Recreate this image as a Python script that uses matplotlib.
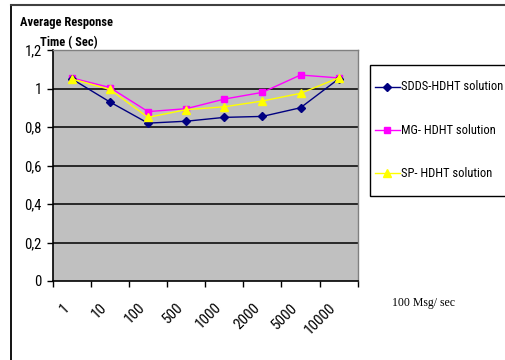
import matplotlib
matplotlib.use("Agg")
import matplotlib.pyplot as plt
from matplotlib.lines import Line2D
from matplotlib.patches import Rectangle
import numpy as np

# Message rates on the x axis and average response times (seconds)
categories = ["1", "10", "100", "500", "1000", "2000", "5000", "10000"]
sdds_hdht = [1.05, 0.93, 0.82, 0.83, 0.85, 0.855, 0.90, 1.05]
mg_hdht = [1.055, 1.005, 0.88, 0.895, 0.945, 0.98, 1.07, 1.055]
sp_hdht = [1.05, 0.995, 0.85, 0.89, 0.905, 0.935, 0.975, 1.055]
series_names = ["SDDS-HDHT solution", "MG- HDHT solution", "SP- HDHT solution"]
y_ticks = [0, 0.2, 0.4, 0.6, 0.8, 1.0, 1.2]
y_tick_labels = ["0", "0,2", "0,4", "0,6", "0,8", "1", "1,2"]

narrow = ["Roboto Condensed", "Liberation Sans", "DejaVu Sans"]
serif = ["Liberation Serif", "DejaVu Serif"]

W, H = 506, 360
fig = plt.figure(figsize=(W / 100, H / 100), dpi=100)
fig.patch.set_facecolor("white")


def fx(px):
    return px / W


def fy(py):
    return 1 - py / H


# outer chart frame (top and left edges visible)
fig.add_artist(Line2D([fx(11), fx(11)], [0, fy(5)], color="black", lw=1.3,
                      transform=fig.transFigure))
fig.add_artist(Line2D([fx(11), 1], [fy(5), fy(5)], color="#404040", lw=1.5,
                      transform=fig.transFigure))

left, right, top, bottom = 52.7, 357.7, 50, 281
ax = fig.add_axes([fx(left), fy(bottom), (right - left) / W, (bottom - top) / H])
ax.set_facecolor("#C0C0C0")

styles = [
    dict(color="#000080", marker="D", ms=4.5),
    dict(color="#FF00FF", marker="s", ms=5),
    dict(color="#FFFF00", marker="^", ms=6),
]
x = np.arange(len(categories))
for vals, st, z in zip([sdds_hdht, mg_hdht, sp_hdht], styles, [5, 4, 6]):
    ax.plot(x, vals, lw=1.0, zorder=z, **st)

ax.set_xlim(-0.5, len(categories) - 0.5)
ax.set_ylim(0, 1.2)
ax.set_yticks(y_ticks)
ax.set_yticklabels(y_tick_labels, fontsize=10.5, family=narrow)
for yv in y_ticks[1:-1]:
    ax.axhline(yv, color="black", lw=1.1, zorder=1)

# category boundaries carry the tick marks, labels sit at the centres
ax.set_xticks(np.arange(-0.5, len(categories), 1.0))
ax.set_xticklabels([])
ax.set_xticks(x, minor=True)
ax.set_xticklabels(categories, minor=True, rotation=45, ha="right", va="top",
                   fontsize=11, family=narrow)
ax.tick_params(axis="x", which="minor", length=0, pad=14)
ax.tick_params(axis="x", which="major", length=4, width=1, direction="out")
ax.tick_params(axis="y", length=4, width=1, direction="out", pad=4)

for s in ("top", "right"):
    ax.spines[s].set_color("#808080")
    ax.spines[s].set_linewidth(1.0)
for s in ("left", "bottom"):
    ax.spines[s].set_color("black")
    ax.spines[s].set_linewidth(1.2)

# axis captions
fig.text(fx(20), fy(26), "Average Response", fontsize=9, fontweight="bold",
         family=narrow, va="baseline")
fig.text(fx(40), fy(46), "Time ( Sec)", fontsize=9, fontweight="bold",
         family=narrow, va="baseline")
fig.text(fx(392), fy(306), "100 Msg/ sec", fontsize=8.5, family=serif,
         va="baseline")

# legend box, running off the right edge of the chart
fig.add_artist(Rectangle((fx(370), fy(196)), fx(160), (196 - 65) / H,
                         transform=fig.transFigure, facecolor="white",
                         edgecolor="black", lw=1.0, clip_on=False))
for i, (name, st) in enumerate(zip(series_names, styles)):
    yc = fy(87 + 43 * i)
    fig.add_artist(Line2D([fx(375), fx(400)], [yc, yc], lw=1.0,
                          color=st["color"], transform=fig.transFigure))
    fig.add_artist(Line2D([fx(387.5)], [yc], lw=0, transform=fig.transFigure,
                          **{**st, "ms": st["ms"] * 0.9}))
    fig.text(fx(401), yc, name, fontsize=9, family=narrow, va="center",
             ha="left")

fig.savefig("out.png", dpi=100)
